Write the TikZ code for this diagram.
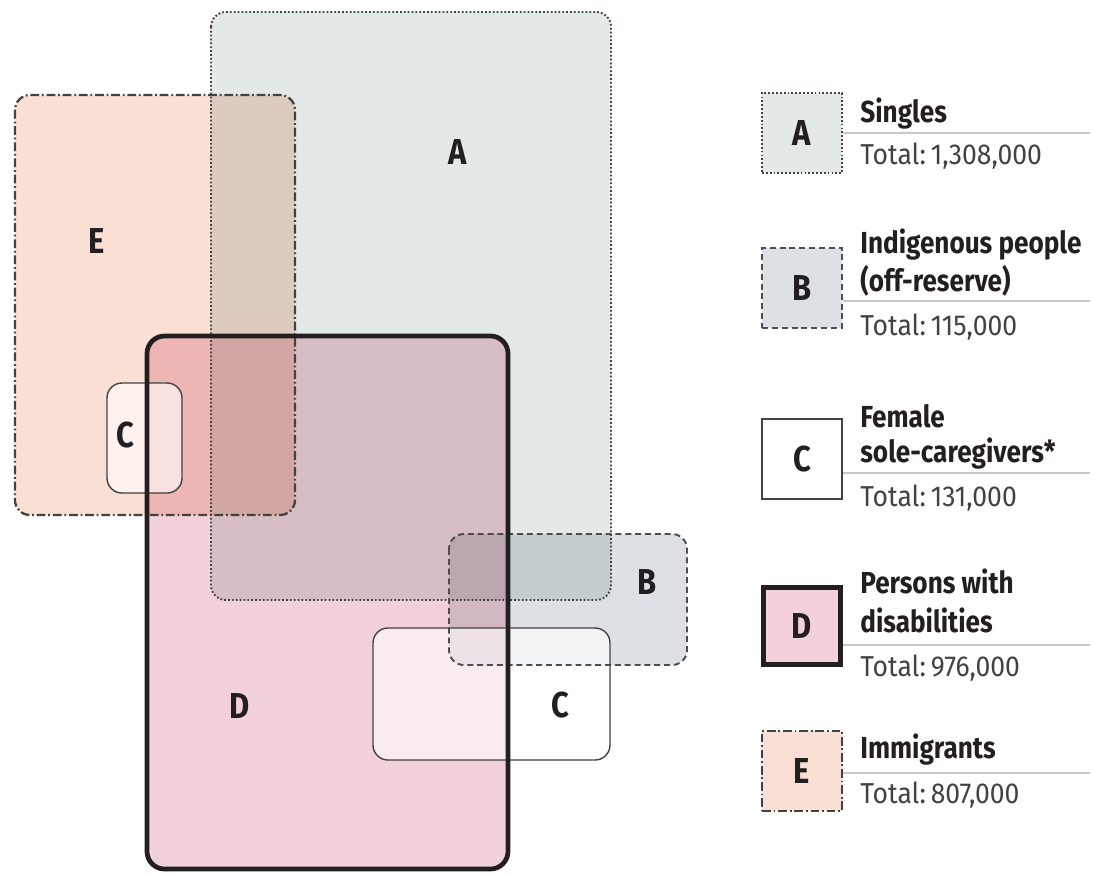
\documentclass[tikz,border=0pt]{standalone}
\usepackage{fontspec}
\setmainfont{Fira Sans}
\newfontfamily\narrowfont{Fira Sans}[FakeStretch=0.86]
\newfontfamily\totalfont{Fira Sans}[FakeStretch=0.92]
\definecolor{ink}{HTML}{231F20}
\definecolor{fillA}{HTML}{E3E9E7}
\definecolor{fillB}{HTML}{DDE1E5}
\definecolor{fillD}{HTML}{F2D1DA}
\definecolor{fillE}{HTML}{FADFD4}
\definecolor{rulegray}{HTML}{C8C8C8}

\tikzset{
  region/.style={rounded corners=8.5pt},
  singlesline/.style={draw=ink!85, line width=1.1pt, dash pattern=on 1pt off 1.2pt},
  indigline/.style={draw=ink!80, line width=1.1pt, dash pattern=on 3.4pt off 2.2pt},
  femaleline/.style={draw=ink!85, line width=0.8pt},
  disabline/.style={draw=ink, line width=2.7pt},
  immigline/.style={draw=ink!85, line width=1.3pt, dash pattern=on 5pt off 1.6pt on 1pt off 1.6pt},
  letter/.style={font=\narrowfont\bfseries\fontsize{20.5}{22}\selectfont, text=ink, inner sep=0pt},
  keybox/.style={letter, minimum width=1.6cm, minimum height=1.6cm},
  title/.style={font=\narrowfont\bfseries\fontsize{17.3}{20}\selectfont, text=ink, anchor=base west, inner sep=0pt},
  total/.style={font=\totalfont\fontsize{16.4}{18}\selectfont, text=ink!85, anchor=base west, inner sep=0pt},
  rule/.style={draw=rulegray, line width=0.6pt}
}

\begin{document}
\begin{tikzpicture}[x=0.02cm, y=-0.02cm]
  \useasboundingbox (0,0) rectangle (1094,873);

  % Region fills (multiplied where they overlap)
  \begin{scope}[blend group=multiply]
    \fill[fillA, region] (211,12) rectangle (611,600);
    \fill[fillE, region] (15,95) rectangle (295,515);
    \fill[fillD, region] (147,336) rectangle (508,869);
    \fill[fillB, region] (449,534) rectangle (687,665);
  \end{scope}
  % Female sole-caregivers: see-through white
  \fill[white, fill opacity=0.6, region] (107,383) rectangle (182,493);
  \fill[white, fill opacity=0.6, region] (373,628) rectangle (610,760);

  % Outlines
  \draw[singlesline, region] (211,12) rectangle (611,600);
  \draw[immigline, region] (15,95) rectangle (295,515);
  \draw[indigline, region] (449,534) rectangle (687,665);
  \draw[femaleline, region] (107,383) rectangle (182,493);
  \draw[femaleline, region] (373,628) rectangle (610,760);
  \draw[disabline, rounded corners=10pt] (147,336) rectangle (508,869);

  % Region letters
  \node[letter] (labA) at (458,152) {A};
  \node[letter] (labE) at (97,241) {E};
  \node[letter] (labCa) at (125,435) {C};
  \node[letter] (labB) at (647,582) {B};
  \node[letter] (labD) at (240,706) {D};
  \node[letter] (labCb) at (560,705) {C};

  % Legend
  \node[keybox, fill=fillA, singlesline] (keyA) at (802,133) {A};
  \node[keybox, fill=fillB, indigline] (keyB) at (802,288) {B};
  \node[keybox, fill=white, femaleline] (keyC) at (802,459) {C};
  \node[keybox, fill=fillD, disabline, minimum width=1.53cm, minimum height=1.53cm] (keyD) at (802,626) {D};
  \node[keybox, fill=fillE, immigline] (keyE) at (802,771) {E};

  \coordinate (endA) at (1090,133);
  \coordinate (endB) at (1090,301);
  \coordinate (endC) at (1090,473);
  \coordinate (endD) at (1090,645);
  \coordinate (endE) at (1090,773);
  \draw[rule] (keyA.east |- endA) -- (endA);
  \draw[rule] (keyB.east |- endB) -- (endB);
  \draw[rule] (keyC.east |- endC) -- (endC);
  \draw[rule] (keyD.east |- endD) -- (endD);
  \draw[rule] (keyE.east |- endE) -- (endE);

  \node[title] (titleA) at (860,122) {Singles};
  \node[total] (totalA) at (860,164) {Total:\,1,308,000};

  \node[title] (titleB1) at (860,253) {Indigenous people};
  \node[title] (titleB2) at (860,291) {(off-reserve)};
  \node[total] (totalB) at (860,335) {Total:\,115,000};

  \node[title] (titleC1) at (860,427) {Female};
  \node[title] (titleC2) at (860,462) {sole-caregivers*};
  \node[total] (totalC) at (860,506) {Total:\,131,000};

  \node[title] (titleD1) at (860,593) {Persons with};
  \node[title] (titleD2) at (860,632) {disabilities};
  \node[total] (totalD) at (860,676) {Total:\,976,000};

  \node[title] (titleE) at (860,758) {Immigrants};
  \node[total] (totalE) at (860,803) {Total:\,807,000};

\end{tikzpicture}
\end{document}
